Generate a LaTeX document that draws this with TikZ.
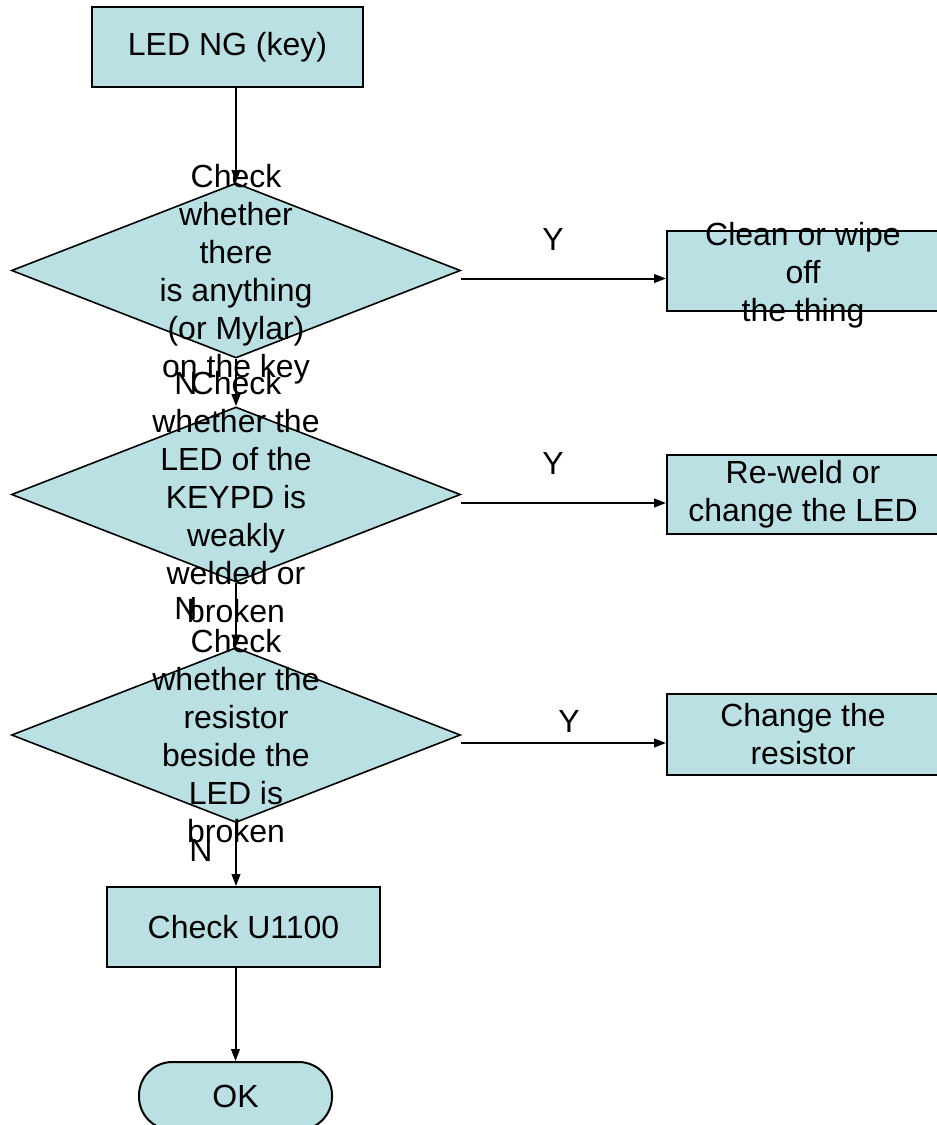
\documentclass[tikz,border=0pt]{standalone}
\usepackage{fontspec}
\setmainfont{Liberation Sans}
\usetikzlibrary{shapes.geometric,arrows.meta}
\definecolor{boxfill}{HTML}{BBE0E3}
\begin{document}
\begin{tikzpicture}[x=0.75pt,y=-0.75pt,
  every node/.style={font=\fontsize{24}{28.5}\selectfont},
  procbox/.style={draw=black,line width=1.5pt,fill=boxfill,rectangle,
    inner sep=0pt,align=center},
  decision/.style={draw=black,line width=1.2pt,fill=boxfill,diamond,
    inner sep=0pt,minimum width=449*0.75pt,minimum height=175*0.75pt},
  terminal/.style={draw=black,line width=1.5pt,fill=boxfill,rectangle,
    rounded corners=25pt,inner sep=0pt},
  txt/.style={align=center,inner sep=0pt},
  lbl/.style={inner sep=0pt},
  arr/.style={line width=1.5pt,-{Triangle[length=9pt,width=6.5pt]}}]
\useasboundingbox (0,0) rectangle (936,1125);

% start
\node[procbox,minimum width=271*0.75pt,minimum height=80*0.75pt] (start) at (227.5,47) {LED NG (key)};

% decisions and their outcome boxes
\node[decision] (d1) at (236,270.5) {};
\node[procbox,minimum width=272*0.75pt,minimum height=80*0.75pt] (c1) at (803,271) {};
\node[decision] (d2) at (236,494.5) {};
\node[procbox,minimum width=272*0.75pt,minimum height=79*0.75pt] (c2) at (803,494.5) {Re-weld or\\change the LED};
\node[decision] (d3) at (236,735) {};
\node[procbox,minimum width=272*0.75pt,minimum height=81*0.75pt] (c3) at (803,734.5) {Change the\\resistor};

% final check and end
\node[procbox,minimum width=273*0.75pt,minimum height=80*0.75pt] (u) at (243.5,927) {Check U1100};
\node[terminal,minimum width=193*0.75pt,minimum height=68*0.75pt] (ok) at (235.5,1096) {OK};

% branch labels
\node[lbl] (y1l) at (553,239) {Y};
\node[lbl] (y2l) at (553,463) {Y};
\node[lbl] (y3l) at (569,721) {Y};
\node[lbl] (n1l) at (186,383) {N};
\node[lbl] (n2l) at (186,608) {N};
\node[lbl] (n3l) at (201,850) {N};

% yes branches leave slightly below the right corner
\coordinate (y1) at ([yshift=-6pt]d1.east);
\coordinate (y2) at ([yshift=-6.375pt]d2.east);
\coordinate (y3) at ([yshift=-6pt]d3.east);
\draw[arr] (y1) -- (y1 -| c1.west);
\draw[arr] (y2) -- (y2 -| c2.west);
\draw[arr] (y3) -- (y3 -| c3.west);

% main flow
\draw[arr] (start.south -| d1.north) -- (d1.north);
\draw[arr] (d1.south) -- (d2.north);
\draw[arr] (d2.south) -- (d3.north);
\draw[arr] (d3.south) -- (d3.south |- u.north);
\draw[arr] (ok.north |- u.south) -- (ok.north);

% texts that run past their shapes, drawn last
\node[txt] (d1t) at (236,274.5) {Check\\whether\\there\\is anything\\(or Mylar)\\on the key};
\node[txt] (c1t) at (803,275.5) {Clean or wipe\\off\\the thing};
\node[txt] (d2t) at (236,497.5) {Check\\whether the\\LED of the\\KEYPD is\\weakly\\welded or\\broken};
\node[txt] (d3t) at (236,736) {Check\\whether the\\resistor\\beside the\\LED is\\broken};
\end{tikzpicture}
\end{document}
